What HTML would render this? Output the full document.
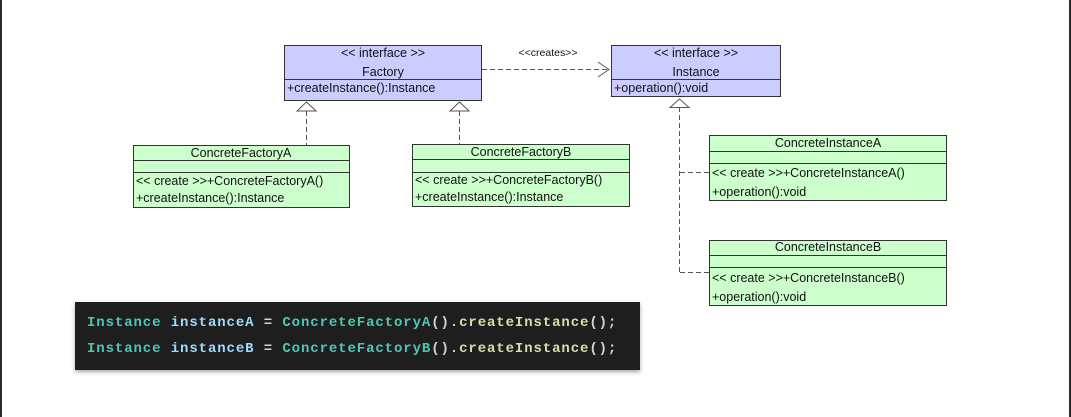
<!DOCTYPE html>
<html><head><meta charset="utf-8"><style>
html,body{margin:0;padding:0;background:#fff;}
body{width:1071px;height:417px;overflow:hidden;position:relative;}
svg{position:absolute;left:0;top:0;}
.t{font-family:"Liberation Sans",Arial,sans-serif;font-size:12.5px;fill:#111;}
.code{position:absolute;left:75px;top:302px;width:565px;height:68px;background:#1e1e1e;box-shadow:0 2px 4px rgba(0,0,0,0.35);font-family:"Liberation Mono",monospace;font-size:14px;font-weight:bold;letter-spacing:0.9px;color:#d4d4d4;}
.code div{position:absolute;left:12px;white-space:pre;}
.ty{color:#4ec9b0}.v{color:#9cdcfe}.f{color:#dcdcaa}
</style></head><body>
<svg width="1071" height="417" viewBox="0 0 1071 417">
<rect x="0" y="0" width="2" height="417" fill="#2b2b2b"/>
<rect x="1069" y="0" width="2" height="417" fill="#2b2b2b"/>
<g stroke="#333" stroke-width="1">
<rect x="284.5" y="45.5" width="197" height="55" fill="#ccccff"/>
<line x1="284" y1="79.5" x2="482" y2="79.5"/>
<rect x="611.5" y="45.5" width="169" height="51" fill="#ccccff"/>
<line x1="611" y1="79.5" x2="781" y2="79.5"/>
<rect x="133.5" y="145.5" width="216" height="62" fill="#ccffcc"/>
<line x1="133" y1="160.5" x2="350" y2="160.5"/>
<line x1="133" y1="172.5" x2="350" y2="172.5"/>
<rect x="412.5" y="144.5" width="217" height="62" fill="#ccffcc"/>
<line x1="412" y1="159.5" x2="630" y2="159.5"/>
<line x1="412" y1="172.5" x2="630" y2="172.5"/>
<rect x="709.5" y="135.5" width="237" height="65" fill="#ccffcc"/>
<line x1="709" y1="151.5" x2="947" y2="151.5"/>
<line x1="709" y1="163.5" x2="947" y2="163.5"/>
<rect x="709.5" y="240.5" width="237" height="65" fill="#ccffcc"/>
<line x1="709" y1="255.5" x2="947" y2="255.5"/>
<line x1="709" y1="267.5" x2="947" y2="267.5"/>
</g>
<g stroke="#555" stroke-width="1" fill="none" stroke-dasharray="5,3">
<line x1="482" y1="69.5" x2="609" y2="69.5"/>
<line x1="306.5" y1="111" x2="306.5" y2="145"/>
<line x1="459.5" y1="111" x2="459.5" y2="144"/>
<line x1="679.5" y1="107" x2="679.5" y2="272"/>
<line x1="680" y1="172.5" x2="709" y2="172.5"/>
<line x1="680" y1="272.5" x2="709" y2="272.5"/>
</g>
<g stroke="#555" stroke-width="1" fill="#fff">
<polyline points="598,62 609,69.5 598,77" fill="none"/>
<polygon points="306.5,102 297,111 316,111"/>
<polygon points="459.5,102 450,111 469,111"/>
<polygon points="679.5,99 670,107.5 689,107.5"/>
</g>
<text class="t" x="383" y="57" text-anchor="middle">&lt;&lt; interface &gt;&gt;</text>
<text class="t" x="383" y="76" text-anchor="middle" font-size="13">Factory</text>
<text class="t" x="287" y="92">+createInstance():Instance</text>
<text class="t" x="548" y="56" text-anchor="middle" style="font-size:10.5px">&lt;&lt;creates&gt;&gt;</text>
<text class="t" x="696" y="57" text-anchor="middle">&lt;&lt; interface &gt;&gt;</text>
<text class="t" x="696" y="76" text-anchor="middle" font-size="13">Instance</text>
<text class="t" x="614" y="92">+operation():void</text>
<text class="t" x="241" y="157" text-anchor="middle">ConcreteFactoryA</text>
<text class="t" x="136" y="185">&lt;&lt; create &gt;&gt;+ConcreteFactoryA()</text>
<text class="t" x="136" y="202">+createInstance():Instance</text>
<text class="t" x="521" y="156" text-anchor="middle">ConcreteFactoryB</text>
<text class="t" x="415" y="184">&lt;&lt; create &gt;&gt;+ConcreteFactoryB()</text>
<text class="t" x="415" y="201">+createInstance():Instance</text>
<text class="t" x="828" y="147" text-anchor="middle">ConcreteInstanceA</text>
<text class="t" x="712" y="177">&lt;&lt; create &gt;&gt;+ConcreteInstanceA()</text>
<text class="t" x="712" y="196">+operation():void</text>
<text class="t" x="828" y="251" text-anchor="middle">ConcreteInstanceB</text>
<text class="t" x="712" y="282">&lt;&lt; create &gt;&gt;+ConcreteInstanceB()</text>
<text class="t" x="712" y="301">+operation():void</text>
</svg>
<div class="code">
<div style="top:13px"><span class="ty">Instance</span> <span class="v">instanceA</span> = <span class="ty">ConcreteFactoryA</span>().<span class="f">createInstance</span>();</div>
<div style="top:39px"><span class="ty">Instance</span> <span class="v">instanceB</span> = <span class="ty">ConcreteFactoryB</span>().<span class="f">createInstance</span>();</div>
</div>
</body></html>
